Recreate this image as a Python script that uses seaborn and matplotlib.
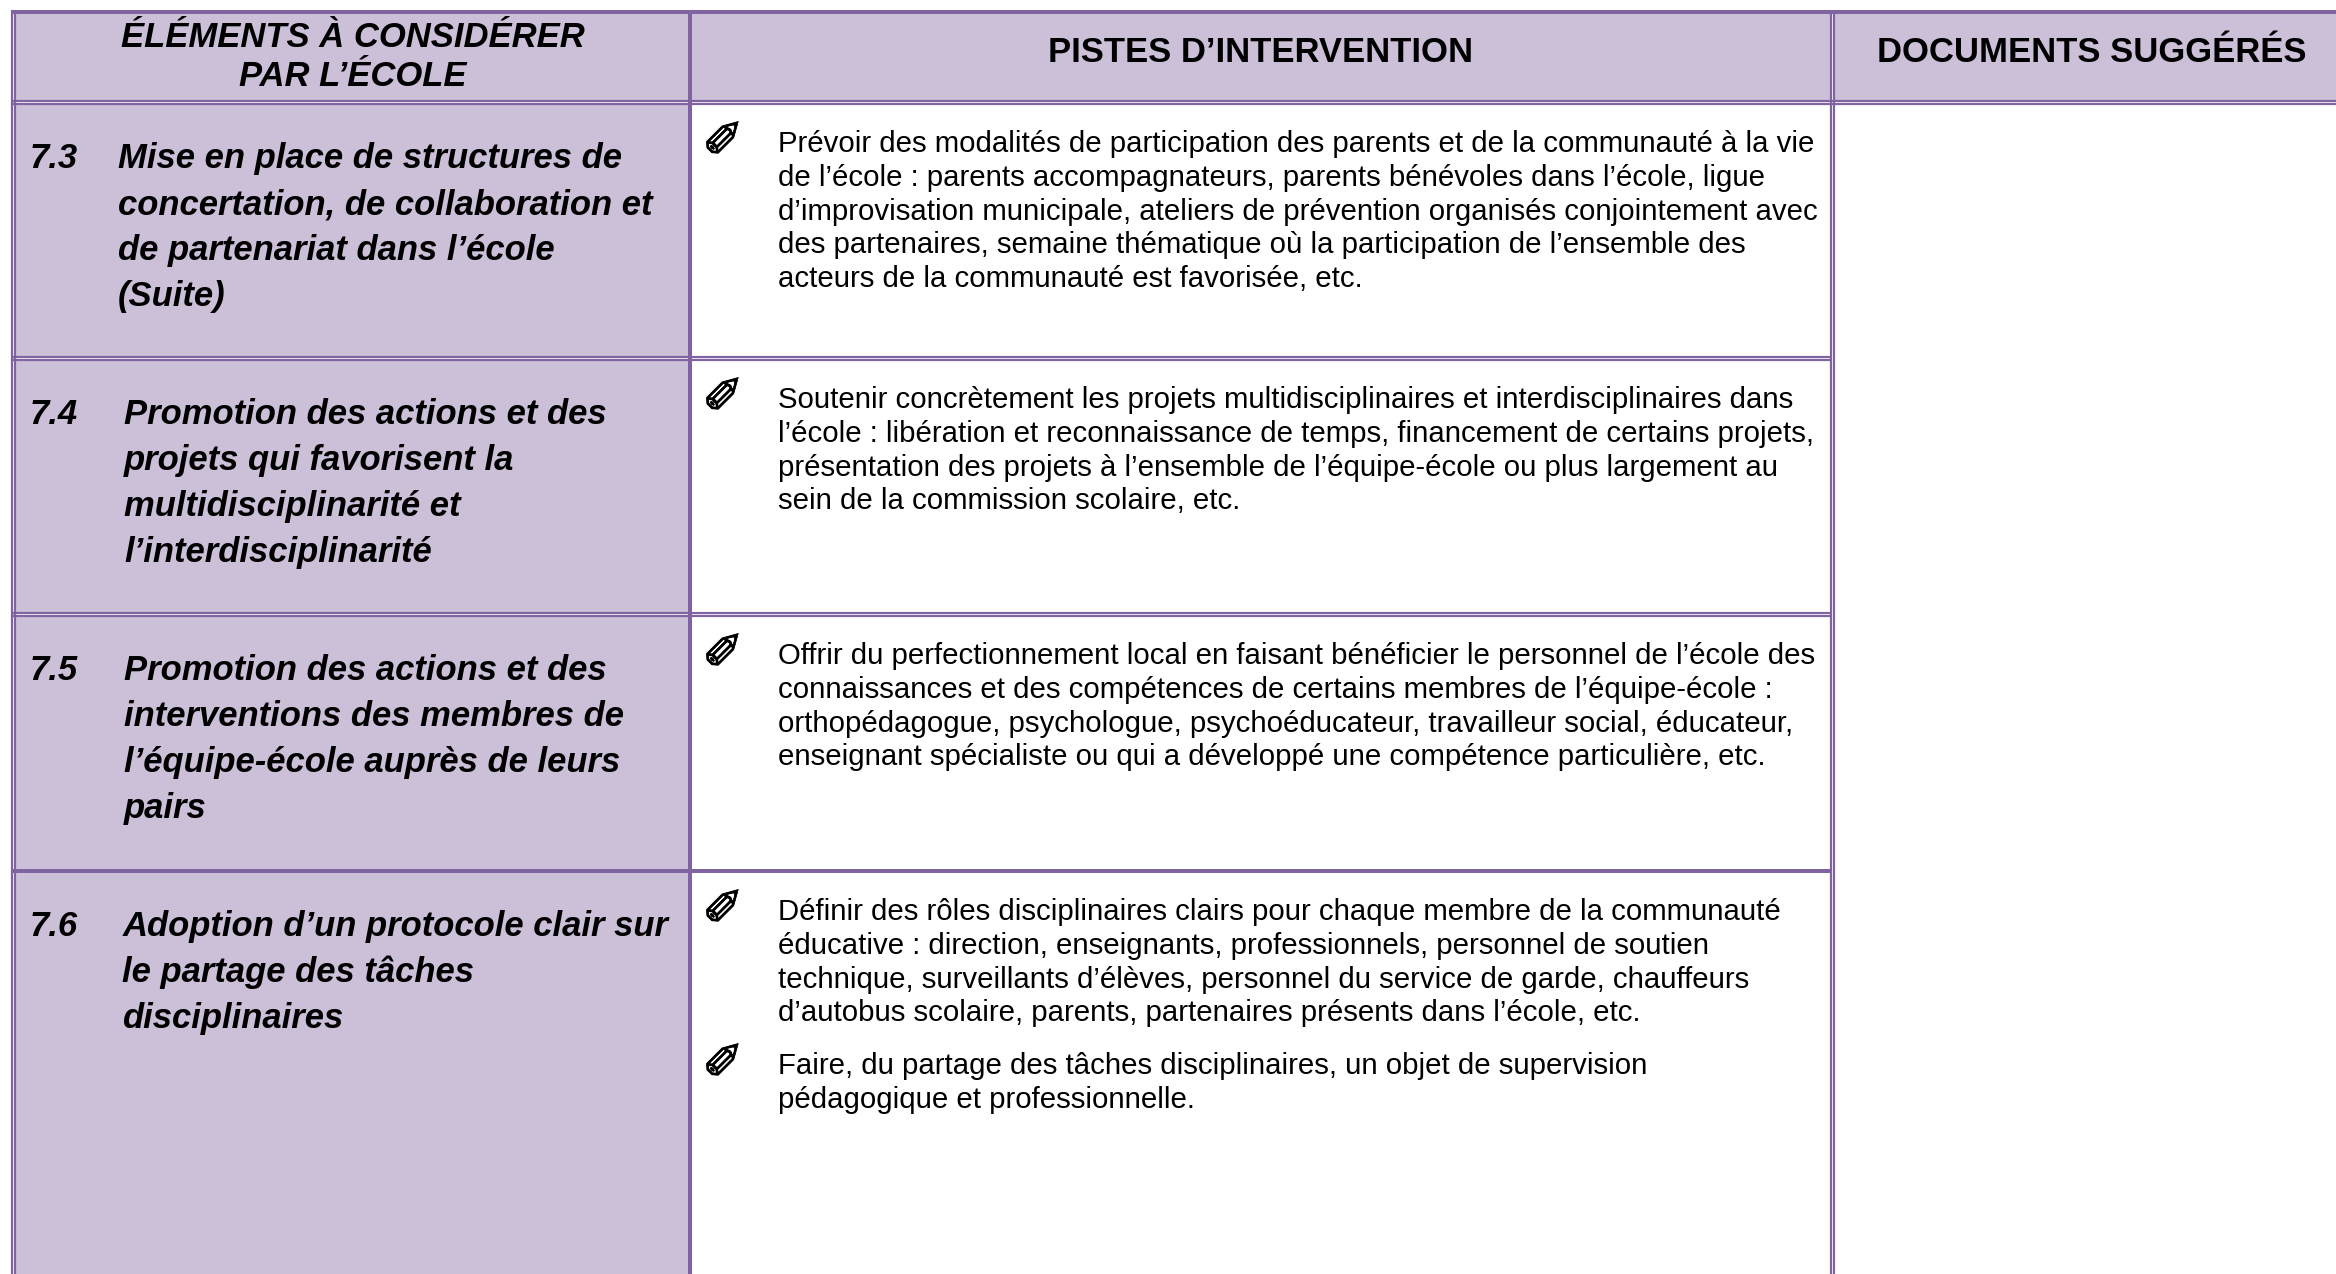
import numpy as np
import matplotlib
matplotlib.use("Agg")
import matplotlib.pyplot as plt
import matplotlib.patheffects as pe
import seaborn as sns

# table content
HEADERS_LEFT = ["ÉLÉMENTS À CONSIDÉRER", "PAR L’ÉCOLE"]
HEADER_MID = "PISTES D’INTERVENTION"
HEADER_RIGHT = "DOCUMENTS SUGGÉRÉS"

numbers = ["7.3", "7.4", "7.5", "7.6"]
elements = [
    ["Mise en place de structures de", "concertation, de collaboration et",
     "de partenariat dans l’école", "(Suite)"],
    ["Promotion des actions et des", "projets qui favorisent la",
     "multidisciplinarité et", "l’interdisciplinarité"],
    ["Promotion des actions et des", "interventions des membres de",
     "l’équipe-école auprès de leurs", "pairs"],
    ["Adoption d’un protocole clair sur", "le partage des tâches",
     "disciplinaires"],
]
pistes = [
    [["Prévoir des modalités de participation des parents et de la communauté à la vie",
      "de l’école : parents accompagnateurs, parents bénévoles dans l’école, ligue",
      "d’improvisation municipale, ateliers de prévention organisés conjointement avec",
      "des partenaires, semaine thématique où la participation de l’ensemble des",
      "acteurs de la communauté est favorisée, etc."]],
    [["Soutenir concrètement les projets multidisciplinaires et interdisciplinaires dans",
      "l’école : libération et reconnaissance de temps, financement de certains projets,",
      "présentation des projets à l’ensemble de l’équipe-école ou plus largement au",
      "sein de la commission scolaire, etc."]],
    [["Offrir du perfectionnement local en faisant bénéficier le personnel de l’école des",
      "connaissances et des compétences de certains membres de l’équipe-école :",
      "orthopédagogue, psychologue, psychoéducateur, travailleur social, éducateur,",
      "enseignant spécialiste ou qui a développé une compétence particulière, etc."]],
    [["Définir des rôles disciplinaires clairs pour chaque membre de la communauté",
      "éducative : direction, enseignants, professionnels, personnel de soutien",
      "technique, surveillants d’élèves, personnel du service de garde, chauffeurs",
      "d’autobus scolaire, parents, partenaires présents dans l’école, etc."],
     ["Faire, du partage des tâches disciplinaires, un objet de supervision",
      "pédagogique et professionnelle."]],
]
# 1 = shaded cell, 0 = white cell (header + 4 rows, 3 columns)
shade = np.array([[1, 1, 1], [1, 0, 0], [1, 0, 0], [1, 0, 0], [1, 0, 0]])

# ----------------------------------------------------------------------
# layout, in pixels of the 2336x1274 output
# ----------------------------------------------------------------------
W, H = 2336, 1274
COL_EDGES = [14, 690, 1832, 2336]
ROW_EDGES = [12, 102, 358, 614, 871, 1274]
ROW_PITCH = 256
LEFT_PITCH = 46
BODY_PITCH = 33.75
LEFT_X = [118, 124, 124, 122.5]
FILL = "#CCC0D9"
LINE = "#8064A2"
PX = 0.72  # points per pixel at dpi=100

sns.set_theme(style="white")
plt.rcParams["font.family"] = ["Liberation Sans", "DejaVu Sans"]

fig = plt.figure(figsize=(W / 100, H / 100), dpi=100)
cmap = sns.blend_palette(["#FFFFFF", FILL], n_colors=2, as_cmap=True)

# cell backgrounds: one heatmap per column, one matrix row per pixel
heights = np.diff(ROW_EDGES)
for j in range(3):
    x0, x1 = COL_EDGES[j], COL_EDGES[j + 1]
    y0, y1 = ROW_EDGES[0], ROW_EDGES[-1]
    col_ax = fig.add_axes([x0 / W, 1 - y1 / H, (x1 - x0) / W, (y1 - y0) / H])
    sns.heatmap(np.repeat(shade[:, [j]], heights, axis=0), ax=col_ax, cmap=cmap,
                vmin=0, vmax=1, cbar=False, xticklabels=False, yticklabels=False)

# overlay in pixel coordinates for rules and text
ax = fig.add_axes([0, 0, 1, 1], facecolor="none")
ax.set_xlim(0, W)
ax.set_ylim(H, 0)
ax.axis("off")

# white gaps go first, the rules are painted on top of them
ax.vlines([13.5, 1832.5], 14, H, color="white", lw=2 * PX)
for y_top in [100, 356, 612]:
    ax.hlines(y_top + 2.5, 11, 1830, color="white", lw=2 * PX)
ax.hlines(102.5, 1830, W, color="white", lw=2 * PX)

# vertical rules
ax.vlines([12, 15], 10, H, color=LINE, lw=2.2 * PX)
ax.vlines(690, 10, H, color=LINE, lw=4 * PX)
ax.vlines([1831, 1834], 10, H, color=LINE, lw=2.2 * PX)

# horizontal rules: double with a white gap, except the last one
ax.hlines(12, 11, W, color=LINE, lw=4 * PX)
for y_top in [100, 356, 612]:
    ax.hlines([y_top + 1, y_top + 4], 11, 1830, color=LINE, lw=2.2 * PX)
ax.hlines(871, 11, 1830, color=LINE, lw=4 * PX)
ax.hlines([101, 104], 1830, W, color=LINE, lw=2.2 * PX)

# headers
head_kw = dict(fontsize=24.9, fontweight="bold", color="black", va="baseline", ha="center")
ax.text(353, 47, HEADERS_LEFT[0], fontstyle="italic", **head_kw)
ax.text(353, 86, HEADERS_LEFT[1], fontstyle="italic", **head_kw)
ax.text(1261, 62, HEADER_MID, **head_kw)
ax.text(2092, 62, HEADER_RIGHT, **head_kw)

# rows
for i, num in enumerate(numbers):
    y_left = 168 + i * ROW_PITCH
    ax.text(30, y_left, num, fontsize=24.9, fontweight="bold", fontstyle="italic",
            color="black", va="baseline")
    for k, line in enumerate(elements[i]):
        ax.text(LEFT_X[i], y_left + k * LEFT_PITCH, line, fontsize=24.9, fontweight="bold",
                fontstyle="italic", color="black", va="baseline")
    y_body = 152 + i * ROW_PITCH
    for para in pistes[i]:
        ax.text(723, y_body - 9, "\u2710", fontsize=36, family="DejaVu Sans",
                color="black", ha="center", va="center",
                path_effects=[pe.withStroke(linewidth=0.5, foreground="black")])
        for line in para:
            ax.text(778, y_body, line, fontsize=21.12, color="black", va="baseline")
            y_body += BODY_PITCH
        y_body += 19

fig.savefig("out.png", dpi=100)
